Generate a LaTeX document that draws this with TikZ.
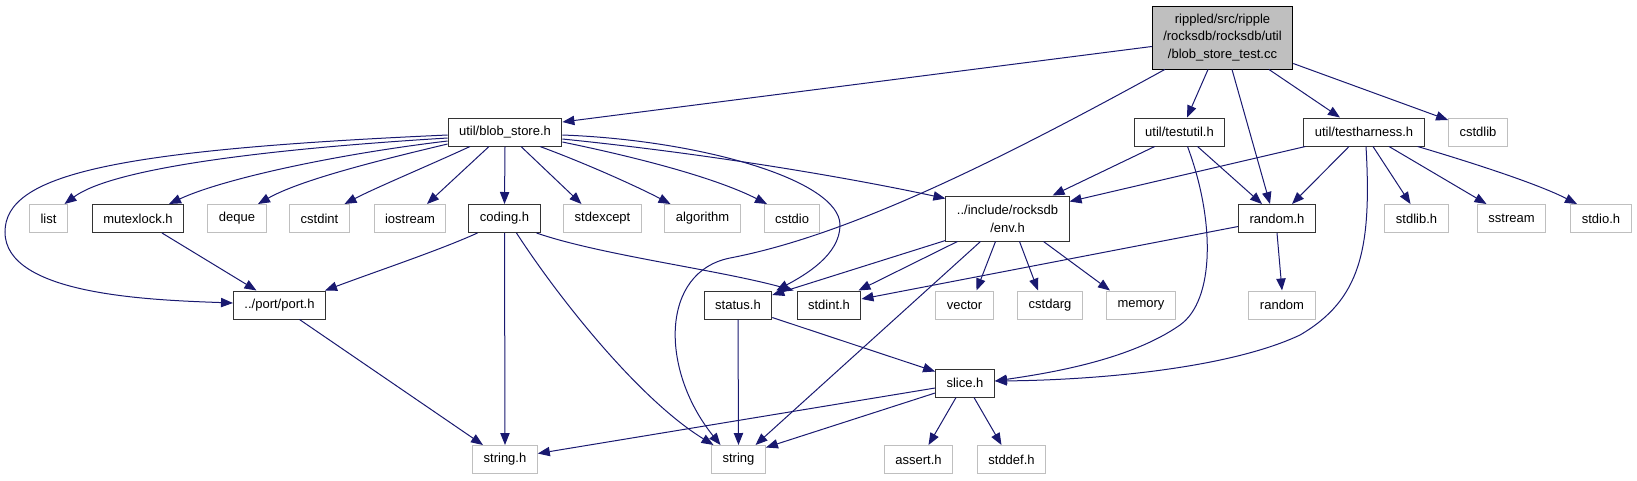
\documentclass[tikz,border=0pt]{standalone}
\usepackage{fontspec}
\setmainfont{Liberation Sans}
\usepackage{xcolor}
\usepackage{tikz}
\usetikzlibrary{arrows.meta,calc}
\definecolor{edgeblue}{HTML}{191970}
\definecolor{boxgray}{HTML}{BFBFBF}
\tikzset{
  incl/.style={draw=black!80, line width=0.75pt, fill=white,
    font=\fontsize{9.75}{13.3}\selectfont, inner xsep=8.25pt, inner ysep=0pt,
    minimum height=21pt, align=center},
  sysincl/.style={incl, draw=boxgray},
  dep/.style={edgeblue, line width=0.75pt, -{Triangle[length=9pt,width=7pt]}},
}

\begin{document}
\begin{tikzpicture}[x=0.75pt, y=-0.75pt]
    \useasboundingbox (0,0) rectangle (1637,480);

    % top file and first level
    \node[incl, fill=boxgray, draw=black, minimum height=47.25pt] (main) at (1222.5,37.5)
        {rippled/src/ripple\\/rocksdb/rocksdb/util\\/blob\_store\_test.cc};
    \node[incl] (blob) at (505,132) {util/blob\_store.h};
    \node[incl] (tutil) at (1179.5,132) {util/testutil.h};
    \node[incl] (tharn) at (1364,132) {util/testharness.h};
    \node[sysincl] (cstdlib) at (1478,132) {cstdlib};

    % second level
    \node[sysincl] (list) at (48.5,218.5) {list};
    \node[incl] (mutex) at (138,218.5) {mutexlock.h};
    \node[sysincl] (deque) at (237,218.5) {deque};
    \node[sysincl] (cstdint) at (319.5,218.5) {cstdint};
    \node[sysincl] (iostream) at (410,218.5) {iostream};
    \node[incl] (coding) at (504.5,218.5) {coding.h};
    \node[sysincl] (stdexcept) at (602.5,218.5) {stdexcept};
    \node[sysincl] (algorithm) at (702.5,218.5) {algorithm};
    \node[sysincl] (cstdio) at (792,218.5) {cstdio};
    \node[incl, minimum height=33.75pt] (env) at (1007.5,218.5) {../include/rocksdb\\/env.h};
    \node[incl] (randomh) at (1277,218.5) {random.h};
    \node[sysincl] (stdlibh) at (1416.5,218.5) {stdlib.h};
    \node[sysincl] (sstream) at (1511.5,218.5) {sstream};
    \node[sysincl] (stdioh) at (1601,218.5) {stdio.h};

    % third level
    \node[incl] (port) at (279.5,305) {../port/port.h};
    \node[incl] (status) at (738,305) {status.h};
    \node[incl] (stdinth) at (829,305) {stdint.h};
    \node[sysincl] (vector) at (964.5,305) {vector};
    \node[sysincl] (cstdarg) at (1050,305) {cstdarg};
    \node[sysincl] (memory) at (1141,305) {memory};
    \node[sysincl] (random) at (1282,305) {random};

    \node[incl] (slice) at (965,383) {slice.h};

    % bottom row
    \node[sysincl] (stringh) at (505,459.5) {string.h};
    \node[sysincl] (string) at (738.5,459.5) {string};
    \node[sysincl] (asserth) at (918.5,459.5) {assert.h};
    \node[sysincl] (stddefh) at (1011.5,459.5) {stddef.h};

    % edges from the test file
    \draw[dep] ($(main.west)+(0,9)$) -- ($(blob.east)+(0,-10)$);
    \draw[dep] ($(main.south west)+(13,0)$) .. controls (1000,160) and (850,235) .. (730,258)
        .. controls (660,272) and (660,370) .. ($(string.north)+(-18,0)$);
    \draw[dep] ($(main.south)+(-14.5,0)$) -- ($(tutil.north)+(7.5,0)$);
    \draw[dep] ($(main.south)+(9.5,0)$) -- ($(randomh.north)+(-7,0)$);
    \draw[dep] ($(main.south)+(46.5,0)$) -- ($(tharn.north)+(-24,0)$);
    \draw[dep] ($(main.east)+(0,26)$) -- ($(cstdlib.west)+(0,-12)$);

    % edges from util/blob_store.h
    \draw[dep] ($(blob.west)+(0,3)$) .. controls (110,150) and (5,175) .. (5,232)
        .. controls (5,295) and (150,300) .. ($(port.west)+(0,-2)$);
    \draw[dep] ($(blob.west)+(0,6)$) .. controls (250,150) and (110,170) .. ($(list.north)+(16,0)$);
    \draw[dep] ($(blob.west)+(0,9)$) .. controls (330,155) and (220,180) .. ($(mutex.north)+(31,0)$);
    \draw[dep] ($(blob.west)+(0,12)$) .. controls (380,160) and (300,180) .. ($(deque.north)+(21,0)$);
    \draw[dep] ($(blob.south)+(-35,0)$) .. controls (430,165) and (375,188) .. ($(cstdint.north)+(25,0)$);
    \draw[dep] ($(blob.south)+(-16,0)$) -- ($(iostream.north)+(17,0)$);
    \draw[dep] (blob.south) -- (coding.north);
    \draw[dep] ($(blob.south)+(16,0)$) -- ($(stdexcept.north)+(-21,0)$);
    \draw[dep] ($(blob.south)+(35,0)$) .. controls (590,165) and (640,188) .. ($(algorithm.north)+(-32,0)$);
    \draw[dep] ($(blob.east)+(0,10)$) .. controls (650,160) and (720,180) .. ($(cstdio.north)+(-25,0)$);
    \draw[dep] ($(blob.east)+(0,7)$) .. controls (720,155) and (860,180) .. ($(env.north west)+(0,3)$);
    \draw[dep] ($(blob.east)+(0,3)$) .. controls (700,140) and (840,180) .. (840,225)
        .. controls (840,255) and (805,275) .. ($(status.north east)+(4,0)$);

    % second level edges
    \draw[dep] ($(mutex.south)+(24,0)$) -- ($(port.north)+(-23,0)$);
    \draw[dep] ($(coding.south west)+(9,0)$) .. controls (440,250) and (380,270) .. ($(port.north east)+(-1,0)$);
    \draw[dep] (coding.south) -- (stringh.north);
    \draw[dep] ($(coding.south)+(12,0)$) .. controls (560,300) and (640,400) .. ($(string.north)+(-25,0)$);
    \draw[dep] ($(coding.south east)+(-4,0)$) .. controls (600,255) and (720,270) .. ($(stdinth.north west)+(-3,0)$);
    \draw[dep] ($(port.south)+(20,0)$) -- ($(stringh.north)+(-22,0)$);

    \draw[dep] ($(env.south west)+(0,-1)$) -- ($(status.east)+(0,-10)$);
    \draw[dep] ($(env.south west)+(12,0)$) -- ($(stdinth.north east)+(-3,0)$);
    \draw[dep] ($(env.south)+(-27,0)$) -- ($(string.north)+(17,0)$);
    \draw[dep] ($(env.south)+(-12,0)$) -- ($(vector.north)+(12,0)$);
    \draw[dep] ($(env.south)+(12,0)$) -- ($(cstdarg.north)+(-12,0)$);
    \draw[dep] ($(env.south)+(36,0)$) -- ($(memory.north)+(-31,0)$);

    \draw[dep] ($(randomh.west)+(0,8)$) -- ($(stdinth.east)+(0,-6)$);
    \draw[dep] (randomh.south) -- (random.north);

    \draw[dep] ($(tutil.south west)+(21,0)$) -- ($(env.north east)+(-17,0)$);
    \draw[dep] ($(tutil.south)+(18,0)$) -- ($(randomh.north)+(-15,0)$);
    \draw[dep] ($(tutil.south)+(8,0)$) .. controls (1215,220) and (1215,300) .. (1180,325)
        .. controls (1130,360) and (1050,373) .. ($(slice.east)+(0,-2)$);

    \draw[dep] ($(tharn.south west)+(2,0)$) -- ($(env.east)+(0,-17)$);
    \draw[dep] ($(tharn.south)+(-15,0)$) -- ($(randomh.north)+(15,0)$);
    \draw[dep] ($(tharn.south)+(2,0)$) .. controls (1372,250) and (1360,300) .. (1300,335)
        .. controls (1230,368) and (1100,380) .. ($(slice.east)+(0,-2)$);
    \draw[dep] ($(tharn.south)+(9,0)$) -- ($(stdlibh.north)+(-6,0)$);
    \draw[dep] ($(tharn.south)+(25,0)$) -- ($(sstream.north)+(-25,0)$);
    \draw[dep] ($(tharn.south east)+(-7,0)$) .. controls (1480,165) and (1540,185) .. ($(stdioh.north)+(-24,0)$);

    % lower levels
    \draw[dep] (status.south) -- (string.north);
    \draw[dep] ($(status.south east)+(0,-2)$) -- ($(slice.north west)+(0,3)$);
    \draw[dep] ($(slice.west)+(0,5)$) -- ($(stringh.east)+(0,-6)$);
    \draw[dep] ($(slice.west)+(0,10)$) -- ($(string.east)+(0,-12)$);
    \draw[dep] ($(slice.south)+(-9,0)$) -- ($(asserth.north)+(10,0)$);
    \draw[dep] ($(slice.south)+(9,0)$) -- ($(stddefh.north)+(-10,0)$);
\end{tikzpicture}
\end{document}
